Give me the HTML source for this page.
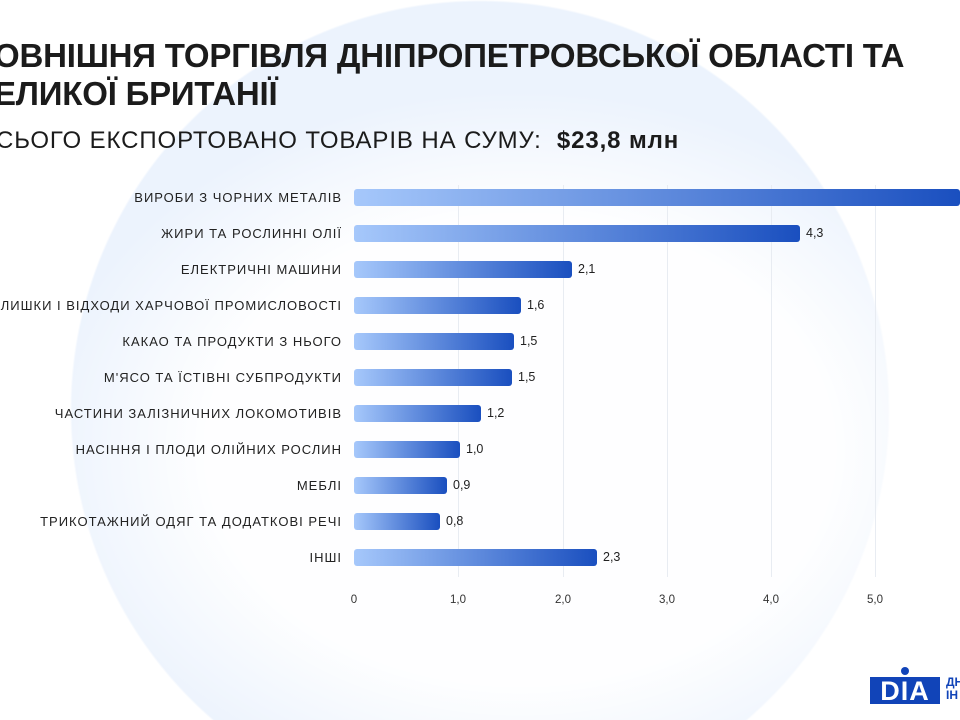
<!DOCTYPE html>
<html style="margin:0;width:960px;height:720px;overflow:hidden"><head><meta charset="utf-8"><style>
body{margin:0;width:960px;height:720px;overflow:hidden;position:relative;font-family:"Liberation Sans","DejaVu Sans",sans-serif;
background:
radial-gradient(ellipse 480px 360px at 520px 450px, rgba(255,255,255,0.95) 65%, rgba(255,255,255,0) 100%),
radial-gradient(circle 410px at 480px 410px, #ecf3fd 99.5%, #fff 100%);}
.t{position:absolute;left:-6px;font-weight:bold;font-size:33px;color:#1b1b1b;letter-spacing:-0.2px}
.sub{position:absolute;left:-4px;top:127px;font-size:24px;color:#1b1b1b;letter-spacing:0.9px}
.lab{position:absolute;right:618px;font-size:13px;color:#222;letter-spacing:1px;white-space:nowrap}
.bar{position:absolute;left:354px;height:17px;border-radius:3px;background:linear-gradient(90deg,#a6c8fb,#1a4fbf)}
.val{position:absolute;font-size:12.5px;color:#222}
.grid{position:absolute;top:185px;height:392px;width:1px;background:#e8ecf2}
.tick{position:absolute;top:594px;font-size:11.5px;color:#333;transform:translateX(-50%)}
</style></head><body>
<div class="t" style="top:37px">ОВНІШНЯ ТОРГІВЛЯ ДНІПРОПЕТРОВСЬКОЇ ОБЛАСТІ ТА</div>
<div class="t" style="top:75px">ЕЛИКОЇ БРИТАНІЇ</div>
<div class="sub">СЬОГО ЕКСПОРТОВАНО ТОВАРІВ НА СУМУ: &nbsp;<b>$23,8 млн</b></div>
<div class="grid" style="left:458px"></div><div class="grid" style="left:563px"></div><div class="grid" style="left:667px"></div><div class="grid" style="left:771px"></div><div class="grid" style="left:875px"></div>
<div class="tick" style="left:354px">0</div><div class="tick" style="left:458px">1,0</div><div class="tick" style="left:563px">2,0</div><div class="tick" style="left:667px">3,0</div><div class="tick" style="left:771px">4,0</div><div class="tick" style="left:875px">5,0</div>

<div class="lab" style="top:190px">ВИРОБИ З ЧОРНИХ МЕТАЛІВ</div><div class="bar" style="top:189px;width:606px"></div>
<div class="lab" style="top:226px">ЖИРИ ТА РОСЛИННІ ОЛІЇ</div><div class="bar" style="top:225px;width:446px"></div><div class="val" style="top:226px;left:806px">4,3</div>
<div class="lab" style="top:262px">ЕЛЕКТРИЧНІ МАШИНИ</div><div class="bar" style="top:261px;width:218px"></div><div class="val" style="top:262px;left:578px">2,1</div>
<div class="lab" style="top:298px">ЛИШКИ І ВІДХОДИ ХАРЧОВОЇ ПРОМИСЛОВОСТІ</div><div class="bar" style="top:297px;width:167px"></div><div class="val" style="top:298px;left:527px">1,6</div>
<div class="lab" style="top:334px">КАКАО ТА ПРОДУКТИ З НЬОГО</div><div class="bar" style="top:333px;width:160px"></div><div class="val" style="top:334px;left:520px">1,5</div>
<div class="lab" style="top:370px">М'ЯСО ТА ЇСТІВНІ СУБПРОДУКТИ</div><div class="bar" style="top:369px;width:158px"></div><div class="val" style="top:370px;left:518px">1,5</div>
<div class="lab" style="top:406px">ЧАСТИНИ ЗАЛІЗНИЧНИХ ЛОКОМОТИВІВ</div><div class="bar" style="top:405px;width:127px"></div><div class="val" style="top:406px;left:487px">1,2</div>
<div class="lab" style="top:442px">НАСІННЯ І ПЛОДИ ОЛІЙНИХ РОСЛИН</div><div class="bar" style="top:441px;width:106px"></div><div class="val" style="top:442px;left:466px">1,0</div>
<div class="lab" style="top:478px">МЕБЛІ</div><div class="bar" style="top:477px;width:93px"></div><div class="val" style="top:478px;left:453px">0,9</div>
<div class="lab" style="top:514px">ТРИКОТАЖНИЙ ОДЯГ ТА ДОДАТКОВІ РЕЧІ</div><div class="bar" style="top:513px;width:86px"></div><div class="val" style="top:514px;left:446px">0,8</div>
<div class="lab" style="top:550px">ІНШІ</div><div class="bar" style="top:549px;width:243px"></div><div class="val" style="top:550px;left:603px">2,3</div>

<div style="position:absolute;left:870px;top:677px;width:70px;height:27px;background:#1144b8"></div>
<div style="position:absolute;left:870px;top:675px;width:70px;height:32px;color:#fff;font-weight:bold;font-size:27px;line-height:32px;text-align:center;letter-spacing:1px">DIA</div>
<div style="position:absolute;left:901px;top:667px;width:8px;height:8px;border-radius:50%;background:#1144b8"></div>
<div style="position:absolute;left:946px;top:676px;width:14px;overflow:hidden;font-size:12px;font-weight:bold;color:#1144b8;line-height:13px">ДН<br>ІН</div>
</body></html>
